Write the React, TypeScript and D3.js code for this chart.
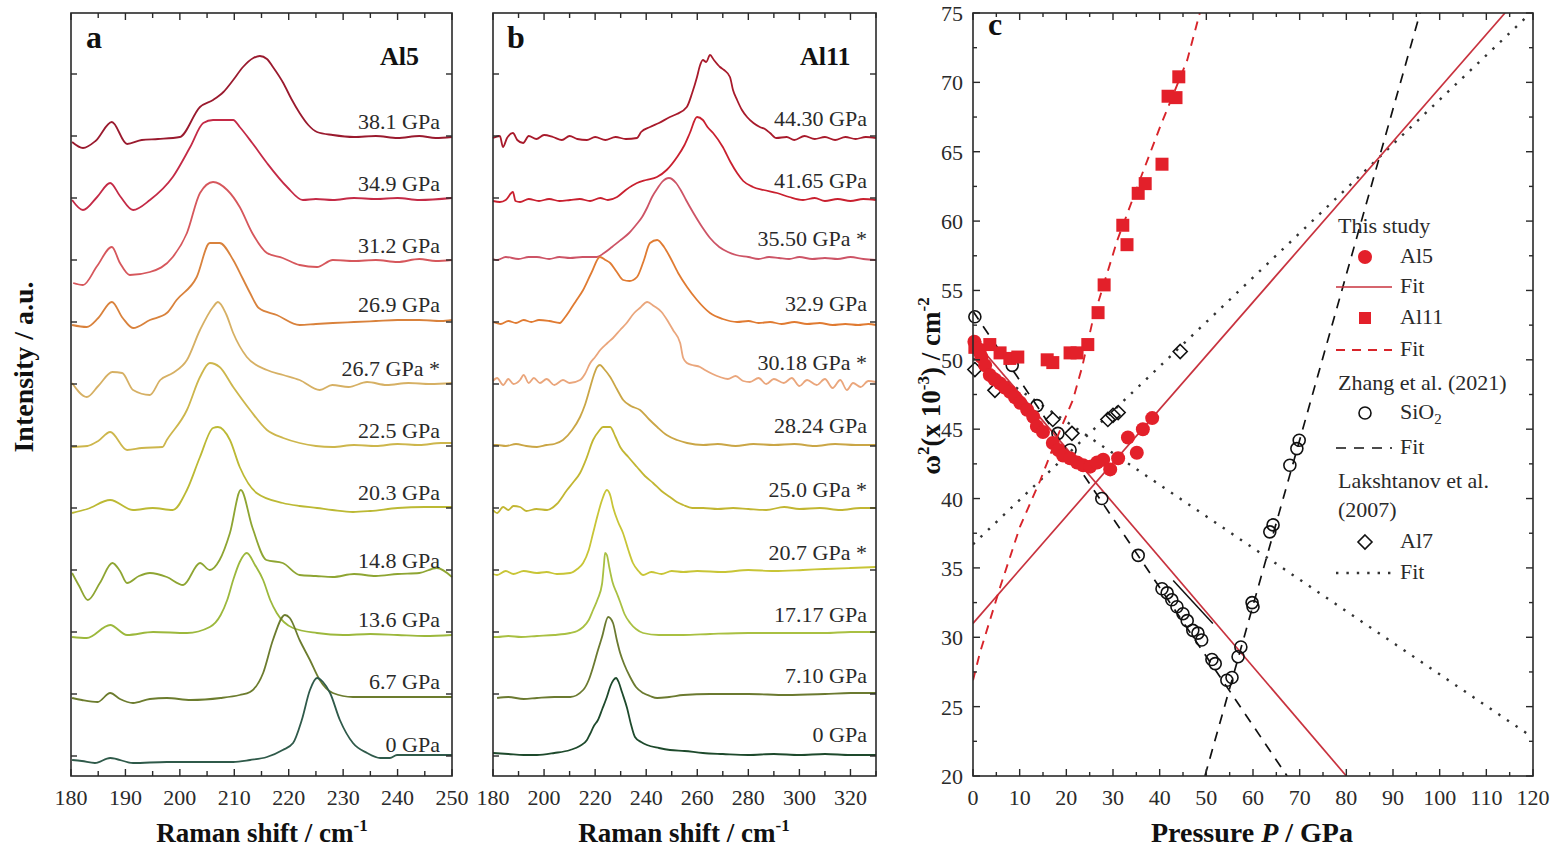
import React from 'react';
import * as d3 from 'd3';

type Pt = [number, number];

const FONT = '"Liberation Serif", "Times New Roman", serif';
const INK = '#2a2a2a';

// ---------- panel a : Al5 spectra  [Raman shift cm-1, height above own baseline]
const al5Labels = ['38.1 GPa', '34.9 GPa', '31.2 GPa', '26.9 GPa', '26.7 GPa *', '22.5 GPa', '20.3 GPa', '14.8 GPa', '13.6 GPa', '6.7 GPa', '0 GPa'];
const al5Offsets = [639, 577, 515, 456, 392, 330, 268, 200, 141, 79, 16];
const al5_381: Pt[] = [[180.2,-5],[182.2,-11],[184.5,-4],[187.5,15],[190.3,-7],[193,-3],[196,-2],[200,0],[203.7,30],[206.1,37],[208,45],[209.8,57],[211.6,70],[213.5,79],[214.7,81],[216,78],[217.1,70],[219,54],[220.5,38],[222,24],[223.6,12],[225.2,5],[228.1,2],[232,0],[236,1],[240,-1],[244,1],[247,-1],[250,0]];
const al5_349: Pt[] = [[180.2,-1],[182.2,-11],[184.8,2],[187.2,16],[189,3],[191.4,-11],[194.5,-1],[198.7,22],[201.9,52],[204.3,76],[206.1,79],[208,79],[209.8,79],[211,72],[213.3,56],[216,36],[219.7,12],[222.6,-1],[225,0],[228.1,-1],[232,1],[236,0],[240,1],[244,-1],[250,1]];
const al5_312: Pt[] = [[180.4,-22],[182.2,-24],[184.8,-5],[187.5,14],[189,-2],[190.8,-14],[194.5,-11],[198.7,4],[201.3,28],[203.7,68],[206.1,79],[208.7,71],[211,54],[213.3,28],[216,8],[218.9,3],[222,-4],[225.2,-6],[228.1,1],[232,0],[236,1],[240,-1],[244,2],[247,0],[250,1]];
const al5_269: Pt[] = [[180.2,-5],[182.9,-7],[185,2],[187.5,18],[189.5,2],[191.4,-8],[194.5,0],[197.6,7],[199.4,20],[203.1,43],[205.5,77],[207.3,77],[209.8,60],[211.5,42],[212.9,27],[214.5,12],[217.8,5],[222,-5],[225,-4],[228.1,-3],[232,-2],[236,-1],[240,0],[244,0],[248,-1],[250,0]];
const al5_267: Pt[] = [[180.2,1],[182.9,-13],[185,-2],[187.6,12],[189.4,11],[191.4,-6],[194.5,-11],[196.4,4],[198.7,11],[201.3,24],[203.7,54],[206.1,77],[207,82],[208.5,70],[209.8,51],[212.3,27],[216,14],[219,9],[222,4],[225.7,-6],[228,-1],[231,-3],[234.4,2],[238,-1],[242,1],[246,0],[250,1]];
const al5_225: Pt[] = [[180.2,-1],[183,0],[185,5],[187.2,14],[190.3,-4],[193,-2],[196.8,-1],[197.6,6],[201.3,36],[203.7,69],[205.5,83],[207.3,79],[209.8,59],[212.9,36],[216,16],[219,8],[222,3],[225,0],[228.1,-1],[232,1],[236,0],[240,2],[244,1],[248,3],[250,3]];
const al5_203: Pt[] = [[180.2,-5],[183,-1],[187.2,8],[191.4,-2],[195,0],[198.7,-2],[201.3,18],[203.7,51],[206.1,80],[207,81],[209.2,68],[211,41],[214.1,15],[218.9,5],[222,2],[225.2,0],[228,-2],[231.8,-4],[235,-3],[240,0],[245,1],[250,1]];
const al5_148: Pt[] = [[180.2,3],[181.5,-10],[183.1,-24],[185.3,-7],[187.6,13],[189,5],[190.3,-7],[192.5,0],[194.5,3],[197.6,-1],[200.6,-9],[203.7,13],[205.5,6],[207.3,16],[209.2,43],[211.2,86],[213.3,49],[215.9,16],[218.9,13],[222,1],[225,0],[228.1,-1],[232,2],[236,0],[240,2],[244,3],[247.2,8],[250,-1]];
const al5_136: Pt[] = [[180.2,-2],[182.9,-3],[187.2,10],[190.3,0],[195.1,3],[201.3,2],[205.5,8],[207.5,20],[208.7,35],[209.8,55],[211,73],[212.3,82],[213.8,70],[215.3,55],[216.6,35],[217.8,22],[220.8,7],[225.2,2],[230,0],[235,1],[240,0],[245,-1],[250,0]];
const al5_67: Pt[] = [[180.2,-1],[182,-3],[184.9,-5],[187.2,4],[189,-2],[191.4,-6],[194.5,-2],[197.6,-1],[202,-3],[207.5,-1],[211,2],[212.9,5],[215.3,24],[217.1,57],[219.3,82],[220.2,79],[222,57],[223.9,37],[225.7,17],[228.1,4],[231.8,0],[238.6,0],[244,0],[250,0]];
const al5_0: Pt[] = [[180.2,0],[182,-1],[184.4,-3],[187.2,2],[191.4,-3],[197.6,-2],[203,-2],[209.8,-2],[212.9,0],[216,3],[218.9,10],[220.8,17],[222.4,40],[223.9,70],[225.2,82],[226.3,78],[227.6,67],[229.4,40],[231.8,17],[234.4,7],[236.8,2],[238.6,2],[239.9,5],[250,5]];
const al5Spectra = [al5_381, al5_349, al5_312, al5_269, al5_267, al5_225, al5_203, al5_148, al5_136, al5_67, al5_0];

// ---------- panel b : Al11 spectra
const al11Labels = ['44.30 GPa', '41.65 GPa', '35.50 GPa *', '32.9 GPa', '30.18 GPa *', '28.24 GPa', '25.0 GPa *', '20.7 GPa *', '17.17 GPa', '7.10 GPa', '0 GPa'];
const al11Offsets = [638, 576, 518, 453, 394, 331, 267, 204, 142, 81, 22];
const al11_4430: Pt[] = [[180,0],[182.7,2],[183.9,-9],[185.5,0],[187.8,5],[189.5,-2],[191.8,-5],[194,2],[197,-1],[200,3],[203.5,1],[207,-2],[210,2],[213,-1],[216.8,-2],[220,1],[224,-2],[228,1],[232,-1],[236.4,0],[238,6],[241.5,11],[245,15],[249.3,21],[252,24],[255.9,31],[258,45],[259.9,61],[261,72],[262.2,78],[263.5,76],[265,83],[266.5,78],[268.9,71],[270.5,68],[272.8,61],[274,48],[275.6,38],[277.5,28],[279.5,21],[282,15],[284.5,11],[286.5,9],[288.5,5],[291,0],[295,1],[298,-2],[302,2],[306,-1],[310,1],[314,-2],[318,1],[322,-1],[326,1],[330,0]];
const al11_4165: Pt[] = [[180,-1],[182.7,-2],[185,0],[187.8,8],[188.8,-1],[190.6,-2],[194,1],[198,-1],[202,1],[206,-1],[210.2,0],[214,1],[218,-1],[222,2],[225,0],[228.6,3],[232,10],[236.4,17],[240,20],[244.2,23],[248,30],[252.1,43],[255,55],[257.1,67],[259.9,83],[262.2,80],[264,73],[266.2,67],[270,53],[273,38],[275.6,27],[278,19],[281.8,13],[286,10],[291.2,7],[296,3],[301.4,0],[306,2],[310,-1],[315,1],[320,-1],[325,1],[330,0]];
const al11_3550: Pt[] = [[180,-1],[181.6,-2],[185,1],[190,-1],[194,1],[197.2,1],[202,-1],[206,1],[210.2,0],[215,1],[220.7,1],[223.5,5],[226.6,11],[230,18],[233.3,25],[236,33],[238.4,41],[240.5,51],[242.3,61],[244.5,70],[246.2,76],[248.9,80],[251.7,75],[253.5,68],[255.6,58],[258.5,45],[261.9,31],[265,20],[268.6,11],[272,6],[275.2,3],[280,1],[284,-1],[288.1,1],[292,0],[296,-1],[300,1],[305,-1],[310,0],[315,-1],[320,1],[325,-1],[330,-2]];
const al11_329: Pt[] = [[180,1],[183,-1],[186,2],[189,0],[192,3],[195,1],[198,3],[202,2],[206.2,0],[208,5],[210.2,13],[212.5,22],[215.3,33],[218.5,50],[221.9,66],[224,63],[225.9,60],[228.5,51],[231,43],[233.5,42],[236.4,46],[239,62],[241.5,80],[244.3,83],[247,76],[249.3,66],[252.5,50],[256,36],[259.9,23],[265,10],[270,4],[275.6,1],[280,2],[284,0],[288.5,1],[293,-1],[298,1],[303,-1],[308,0],[313,-2],[318,-1],[323,-2],[327,-1],[330,-2]];
const al11_3018: Pt[] = [[180,1],[181.6,4],[184,-3],[186,3],[188,-2],[190.6,2],[192,7],[194,-1],[196,4],[198.4,-1],[201,3],[204,-3],[207.4,2],[210,-1],[214.1,2],[216,8],[218.1,19],[220,25],[222,32],[224.8,39],[227,44],[229.8,52],[232,58],[235.3,69],[237.5,74],[240.4,80],[243,76],[246,70],[248.2,62],[250.5,52],[253.3,39],[254.5,24],[256,19],[258,17],[261.1,15],[263,12],[266,8],[268.9,5],[272,3],[275,6],[278,1],[280.6,0],[284,4],[287,-2],[290,3],[293.9,-1],[297,4],[300,-4],[303,2],[306.8,-3],[310,3],[313,-6],[316,2],[318.6,-8],[321,-1],[324,-5],[327,1],[330,0]];
const al11_2824: Pt[] = [[180,0],[181.6,0],[185,-1],[189,1],[193,-1],[197.2,-2],[201,0],[204,1],[207.4,5],[211,15],[214.1,28],[216,40],[218.1,58],[219.5,70],[220.8,78],[221.9,80],[223.5,76],[225.9,68],[228.5,56],[231,45],[234,39],[237.6,35],[241,26],[244.3,18],[248,10],[252.1,5],[256,2],[262.3,0],[268,1],[275,-1],[282,1],[290,0],[298,1],[306,-1],[314,1],[322,0],[330,0]];
const al11_250: Pt[] = [[180,-1],[181.6,-4],[184,2],[186,-1],[188,3],[190.6,2],[193,-2],[197,0],[201.2,-1],[205,5],[209,19],[211.5,27],[214.1,36],[216.5,50],[219.2,69],[221.5,78],[223.1,82],[225.9,82],[228,72],[229.8,62],[233,52],[236.4,42],[239.5,33],[242.7,26],[246,18],[249.3,12],[252,7],[254.5,4],[258,1],[262.3,1],[268,0],[274,1],[280,0],[287,-1],[294,2],[300,0],[308,1],[316,-1],[324,1],[330,1]];
const al11_207: Pt[] = [[180,-2],[181.6,-3],[185,1],[188,-2],[192,1],[197.2,-1],[201,0],[205,-2],[210.2,-1],[213,3],[215.3,9],[217.5,22],[219.2,39],[221,57],[222.7,72],[224.6,82],[226,76],[227,65],[229,50],[230.9,39],[233,22],[234.8,9],[237,1],[238.8,-3],[242,0],[246,-2],[250,1],[254.5,0],[260,1],[270,0],[280,2],[290,1],[301.4,2],[310,3],[320,4],[330,5]];
const al11_1717: Pt[] = [[180,-3],[181.6,-3],[186,-2],[191,-3],[197.2,-2],[204,-1],[210.2,1],[213,3],[215.3,7],[217.5,14],[219.2,24],[221,35],[222.7,50],[223.4,68],[223.9,81],[224.6,79],[225.6,66],[226.8,52],[228.6,40],[229.8,32],[231.5,20],[233.7,11],[236,5],[238.8,1],[245,-1],[254.5,-1],[265,0],[280,1],[295,1],[310,1],[320,2],[330,2]];
const al11_710: Pt[] = [[181.6,-3],[186,-2],[192,-4],[197.2,-3],[204,-2],[210.2,-2],[215.3,5],[217.5,15],[219.2,28],[221,44],[222.7,58],[225.1,78],[227,72],[228.5,55],[229.8,42],[231.5,30],[233.7,18],[236,8],[238.8,2],[241.5,-1],[244.3,-3],[249,-2],[254.5,0],[265,1],[280,1],[295,0],[310,1],[320,2],[330,2]];
const al11_0: Pt[] = [[180,1],[186,0],[192,-1],[197.2,-1],[204,1],[210.2,4],[214,8],[216.8,14],[218,20],[219.5,28],[221.1,34],[222.8,45],[224.6,57],[226,68],[227.2,74],[228.2,76],[229.2,72],[230.5,62],[232.5,46],[234,30],[235.6,17],[238,12],[240.3,9],[245,6],[249.3,4],[255,3],[262.2,1],[270,0],[280,-1],[290,0],[300,-1],[310,0],[320,-1],[330,-1]];
const al11Spectra = [al11_4430, al11_4165, al11_3550, al11_329, al11_3018, al11_2824, al11_250, al11_207, al11_1717, al11_710, al11_0];

const intensityTicks = [20, 82, 144, 206, 268, 330, 392, 454, 516, 578, 640, 702];
const shiftTicksA = [180, 190, 200, 210, 220, 230, 240, 250];
const shiftMinorA = [185, 195, 205, 215, 225, 235, 245];
const shiftTicksB = [180, 200, 220, 240, 260, 280, 300, 320];
const shiftMinorB = [190, 210, 230, 250, 270, 290, 310, 330];

// ---------- panel c : omega^2 (x10^-3 cm^-2) vs pressure (GPa)
const al5Points: Pt[] = [[0.3,51.3],[1.0,50.8],[1.8,50.2],[2.6,49.6],[3.6,48.9],[4.6,48.6],[5.8,48.3],[6.8,48.0],[7.9,47.7],[9.0,47.3],[10.1,46.9],[11.6,46.4],[12.9,45.9],[13.7,45.2],[15.0,44.8],[17.1,44.0],[18.3,43.5],[19.3,43.1],[20.8,42.9],[22.3,42.6],[23.6,42.4],[25.1,42.3],[26.6,42.6],[27.9,42.8],[29.4,42.1],[31.1,42.9],[33.2,44.4],[35.1,43.3],[36.4,45.0],[38.4,45.8]];
const al11Points: Pt[] = [[0.4,50.9],[1.5,50.7],[3.6,51.1],[5.8,50.5],[7.9,50.1],[9.6,50.2],[15.9,50.0],[17.1,49.8],[20.8,50.5],[22.3,50.5],[24.6,51.1],[26.8,53.4],[28.1,55.4],[32.1,59.7],[33.0,58.3],[35.4,62.0],[36.9,62.7],[40.5,64.1],[41.8,69.0],[43.5,68.9],[44.1,70.4]];
const sio2Points: Pt[] = [[0.4,53.1],[8.4,49.6],[13.7,46.7],[18.2,44.7],[20.8,43.5],[27.6,40.0],[35.4,35.9],[40.5,33.5],[41.6,33.2],[42.6,32.7],[43.7,32.2],[45.0,31.7],[45.9,31.2],[47.1,30.5],[48.2,30.3],[49.0,29.8],[51.2,28.4],[51.9,28.1],[54.4,26.9],[55.5,27.1],[56.8,28.6],[57.4,29.3],[59.8,32.5],[60.0,32.2],[63.6,37.6],[64.3,38.1],[67.9,42.4],[69.4,43.6],[69.9,44.2]];
const al7Points: Pt[] = [[0.4,49.3],[4.7,47.8],[17.1,45.7],[21.2,44.7],[28.9,45.7],[30.0,46.0],[31.1,46.2],[44.4,50.6]];

const al5FitUp: Pt[] = [[0, 31.0], [114, 75]];
const al5FitDown: Pt[] = [[0, 51.5], [80, 20]];
const al11Fit: Pt[] = [[0,26.9],[1.5,28.9],[5.8,33.6],[10.1,38.0],[14.4,41.3],[18,44.4],[21.4,47.1],[23.4,49.5],[25.7,52.9],[30.9,58.6],[35.8,63.0],[40.1,66.8],[45.9,71.6],[48.6,75]];
const sio2FitDown: Pt[] = [[0, 53.5], [67.3, 20]];
const sio2FitUp: Pt[] = [[49.7, 20], [95.8, 75]];
const sio2FitPiece: Pt[] = [[42.9, 34.1], [51.4, 31.0]];
const al7FitUp: Pt[] = [[0, 36.7], [119.5, 75]];
const al7FitDown: Pt[] = [[0, 50.1], [119, 23.0]];

const pressureTicks = [0, 10, 20, 30, 40, 50, 60, 70, 80, 90, 100, 110, 120];
const omegaTicks = [20, 25, 30, 35, 40, 45, 50, 55, 60, 65, 70, 75];

// colours (top spectrum first)
const al5Colours = ['#9a1a2e', '#c42a46', '#d6575c', '#d9823c', '#d6b064', '#cdb64c', '#bcb934', '#8ea532', '#9cb83c', '#6c7c2e', '#2f5a4a'];
const al11Colours = ['#a81a2b', '#c9202f', '#cd5466', '#e07b32', '#eaa67c', '#caa646', '#c2b632', '#c8c536', '#a9c042', '#6b7a30', '#1e4a2c'];
const RED = '#e3202a';

type Frame = { left: number; right: number; top: number; bottom: number };
const FA: Frame = { left: 71, right: 452, top: 13, bottom: 776 };
const FB: Frame = { left: 493, right: 876, top: 13, bottom: 776 };
const FC: Frame = { left: 973, right: 1533, top: 13, bottom: 776 };

function SpectraPanel(props: any) {
  const { f, domain, majors, minors, spectra, offsets, labels, colours, labelX, lift, letter, letterX, sample, sampleX, titleX } = props;
  const x = d3.scaleLinear().domain(domain).range([f.left, f.right]);
  const y = d3.scaleLinear().domain([0, f.bottom - f.top]).range([f.bottom, f.top]);
  const line = d3.line<Pt>().x(d => x(d[0])).y(d => y(d[1])).curve(d3.curveMonotoneX);

  return (
    <g fontFamily={FONT}>
      {spectra.map((s: Pt[], i: number) => (
        <path key={i} d={line(s.map(([w, h]) => [w, offsets[i] + h] as Pt)) || ''} fill="none" stroke={colours[i]} strokeWidth={1.8} strokeLinejoin="round" />
      ))}
      {labels.map((t: string, i: number) => (
        <text key={t + i} x={labelX} y={y(offsets[i] + lift)} textAnchor="end" fontSize={22} fill={INK}>{t}</text>
      ))}
      <rect x={f.left} y={f.top} width={f.right - f.left} height={f.bottom - f.top} fill="none" stroke={INK} strokeWidth={1.6} />
      {majors.map((v: number) => (
        <g key={'M' + v} stroke={INK} strokeWidth={1.4}>
          <line x1={x(v)} x2={x(v)} y1={f.top} y2={f.top + 7} />
          <line x1={x(v)} x2={x(v)} y1={f.bottom} y2={f.bottom - 7} />
        </g>
      ))}
      {minors.map((v: number) => (
        <g key={'m' + v} stroke={INK} strokeWidth={1.4}>
          <line x1={x(v)} x2={x(v)} y1={f.top} y2={f.top + 5} />
          <line x1={x(v)} x2={x(v)} y1={f.bottom} y2={f.bottom - 5} />
        </g>
      ))}
      {intensityTicks.map(v => (
        <g key={'i' + v} stroke={INK} strokeWidth={1.4}>
          <line x1={f.left} x2={f.left + 6} y1={y(v)} y2={y(v)} />
          <line x1={f.right} x2={f.right - 6} y1={y(v)} y2={y(v)} />
        </g>
      ))}
      {majors.map((v: number) => (
        <text key={'l' + v} x={x(v)} y={805} textAnchor="middle" fontSize={22} fill={INK}>{v}</text>
      ))}
      <text x={titleX} y={842} textAnchor="middle" fontSize={27} fontWeight="bold" fill="#111">
        Raman shift / cm<tspan dy={-11} fontSize={17}>-1</tspan>
      </text>
      <text x={letterX} y={48} fontSize={32} fontWeight="bold" fill="#111">{letter}</text>
      <text x={sampleX} y={65} fontSize={26} fontWeight="bold" fill="#111">{sample}</text>
    </g>
  );
}

function PressurePanel() {
  const f = FC;
  const x = d3.scaleLinear().domain([0, 120]).range([f.left, f.right]);
  const y = d3.scaleLinear().domain([20, 75]).range([f.bottom, f.top]);
  const line = d3.line<Pt>().x(d => x(d[0])).y(d => y(d[1]));
  const minorX = d3.range(5, 120, 10);
  const minorY = d3.range(22.5, 75, 5);
  const diamond = (cx: number, cy: number, r: number) => `M${cx},${cy - r}L${cx + r},${cy}L${cx},${cy + r}L${cx - r},${cy}Z`;

  const lg = { text: 1400, mark: 1365, l1: 1336, l2: 1392 };
  const rows = [233, 263, 293, 324, 356, 390, 419, 454, 488, 517, 548, 579];

  return (
    <g fontFamily={FONT}>
      <defs>
        <clipPath id="clipC"><rect x={f.left} y={f.top} width={f.right - f.left} height={f.bottom - f.top} /></clipPath>
      </defs>
      <g clipPath="url(#clipC)" fill="none">
        <path d={line(al7FitUp) || ''} stroke="#333" strokeWidth={2.4} strokeDasharray="2.4 8" />
        <path d={line(al7FitDown) || ''} stroke="#333" strokeWidth={2.4} strokeDasharray="2.4 8" />
        <path d={line(sio2FitDown) || ''} stroke="#111" strokeWidth={1.7} strokeDasharray="10 8" />
        <path d={line(sio2FitUp) || ''} stroke="#111" strokeWidth={1.7} strokeDasharray="10 8" />
        <path d={line(sio2FitPiece) || ''} stroke="#111" strokeWidth={1.5} />
        <path d={line(al5FitUp) || ''} stroke="#c8323e" strokeWidth={1.7} />
        <path d={line(al5FitDown) || ''} stroke="#c8323e" strokeWidth={1.7} />
        <path d={line(al11Fit) || ''} stroke="#d8242a" strokeWidth={1.9} strokeDasharray="9 7" />
      </g>
      {sio2Points.map((d, i) => (
        <circle key={'s' + i} cx={x(d[0])} cy={y(d[1])} r={6} fill="none" stroke="#111" strokeWidth={1.6} />
      ))}
      {al7Points.map((d, i) => (
        <path key={'d' + i} d={diamond(x(d[0]), y(d[1]), 7)} fill="none" stroke="#111" strokeWidth={1.6} />
      ))}
      {al11Points.map((d, i) => (
        <rect key={'q' + i} x={x(d[0]) - 6.5} y={y(d[1]) - 6.5} width={13} height={13} fill={RED} />
      ))}
      {al5Points.map((d, i) => (
        <circle key={'c' + i} cx={x(d[0])} cy={y(d[1])} r={7} fill={RED} />
      ))}

      <rect x={f.left} y={f.top} width={f.right - f.left} height={f.bottom - f.top} fill="none" stroke={INK} strokeWidth={1.6} />
      {pressureTicks.map(v => (
        <g key={'px' + v}>
          <line x1={x(v)} x2={x(v)} y1={f.bottom} y2={f.bottom - 7} stroke={INK} strokeWidth={1.4} />
          <line x1={x(v)} x2={x(v)} y1={f.top} y2={f.top + 7} stroke={INK} strokeWidth={1.4} />
          <text x={x(v)} y={805} textAnchor="middle" fontSize={22} fill={INK}>{v}</text>
        </g>
      ))}
      {minorX.map(v => (
        <g key={'pm' + v} stroke={INK} strokeWidth={1.4}>
          <line x1={x(v)} x2={x(v)} y1={f.bottom} y2={f.bottom - 4} />
          <line x1={x(v)} x2={x(v)} y1={f.top} y2={f.top + 4} />
        </g>
      ))}
      {omegaTicks.map(v => (
        <g key={'oy' + v}>
          <line x1={f.left} x2={f.left + 7} y1={y(v)} y2={y(v)} stroke={INK} strokeWidth={1.4} />
          <line x1={f.right} x2={f.right - 7} y1={y(v)} y2={y(v)} stroke={INK} strokeWidth={1.4} />
          <text x={963} y={y(v) + 8} textAnchor="end" fontSize={22} fill={INK}>{v}</text>
        </g>
      ))}
      {minorY.map(v => (
        <g key={'om' + v} stroke={INK} strokeWidth={1.4}>
          <line x1={f.left} x2={f.left + 4} y1={y(v)} y2={y(v)} />
          <line x1={f.right} x2={f.right - 4} y1={y(v)} y2={y(v)} />
        </g>
      ))}

      <text x={1252} y={842} textAnchor="middle" fontSize={28} fontWeight="bold" fill="#111">
        Pressure <tspan fontStyle="italic">P</tspan> / GPa
      </text>
      <text transform="translate(940,386) rotate(-90)" textAnchor="middle" fontSize={27} fontWeight="bold" fill="#111">
        ω<tspan dy={-11} fontSize={17}>2</tspan>
        <tspan dy={11}>(x 10</tspan><tspan dy={-11} fontSize={17}>-3</tspan>
        <tspan dy={11}>) / cm</tspan><tspan dy={-11} fontSize={17}>-2</tspan>
      </text>
      <text x={988} y={35} fontSize={32} fontWeight="bold" fill="#111">c</text>

      {/* legend */}
      <g fontSize={22} fill={INK}>
        <text x={1338} y={rows[0]}>This study</text>
        <circle cx={lg.mark} cy={rows[1] - 6} r={7} fill={RED} />
        <text x={lg.text} y={rows[1]}>Al5</text>
        <line x1={lg.l1} x2={lg.l2} y1={rows[2] - 6} y2={rows[2] - 6} stroke="#c8323e" strokeWidth={1.7} />
        <text x={lg.text} y={rows[2]}>Fit</text>
        <rect x={lg.mark - 6} y={rows[3] - 12} width={12} height={12} fill={RED} />
        <text x={lg.text} y={rows[3]}>Al11</text>
        <line x1={lg.l1} x2={lg.l2} y1={rows[4] - 6} y2={rows[4] - 6} stroke="#d8242a" strokeWidth={1.9} strokeDasharray="9 7" />
        <text x={lg.text} y={rows[4]}>Fit</text>
        <text x={1338} y={rows[5]}>Zhang et al. (2021)</text>
        <circle cx={lg.mark} cy={rows[6] - 6} r={6} fill="none" stroke="#111" strokeWidth={1.6} />
        <text x={lg.text} y={rows[6]}>SiO<tspan dy={5} fontSize={15}>2</tspan></text>
        <line x1={lg.l1} x2={lg.l2} y1={rows[7] - 6} y2={rows[7] - 6} stroke="#111" strokeWidth={1.7} strokeDasharray="10 8" />
        <text x={lg.text} y={rows[7]}>Fit</text>
        <text x={1338} y={rows[8]}>Lakshtanov et al.</text>
        <text x={1338} y={rows[9]}>(2007)</text>
        <path d={diamond(lg.mark, rows[10] - 6, 7)} fill="none" stroke="#111" strokeWidth={1.6} />
        <text x={lg.text} y={rows[10]}>Al7</text>
        <line x1={lg.l1} x2={lg.l2} y1={rows[11] - 6} y2={rows[11] - 6} stroke="#333" strokeWidth={2.4} strokeDasharray="2.4 8" />
        <text x={lg.text} y={rows[11]}>Fit</text>
      </g>
    </g>
  );
}

export default function App() {
  return (
    <svg width={1558} height={851} style={{ position: 'absolute', left: 0, top: 0, background: '#fff' }}>
      <rect width={1558} height={851} fill="#fff" />
      <SpectraPanel f={FA} domain={[180, 250]} majors={shiftTicksA} minors={shiftMinorA}
        spectra={al5Spectra} offsets={al5Offsets} labels={al5Labels} colours={al5Colours}
        labelX={440} lift={8} letter="a" letterX={86} sample="Al5" sampleX={380} titleX={262} />
      <SpectraPanel f={FB} domain={[180, 330]} majors={shiftTicksB} minors={shiftMinorB}
        spectra={al11Spectra} offsets={al11Offsets} labels={al11Labels} colours={al11Colours}
        labelX={867} lift={12} letter="b" letterX={507} sample="Al11" sampleX={800} titleX={684} />
      <text transform="translate(33,367) rotate(-90)" textAnchor="middle" fontFamily={FONT} fontSize={28} fontWeight="bold" fill="#111">
        Intensity / a.u.
      </text>
      <PressurePanel />
    </svg>
  );
}
